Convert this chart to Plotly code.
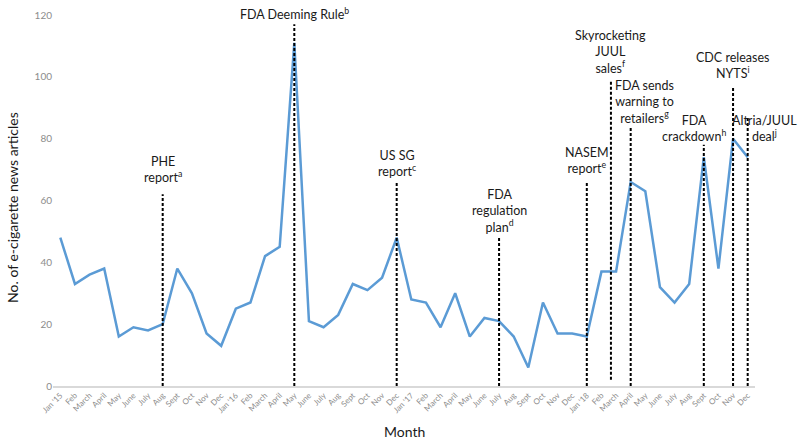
import plotly.graph_objects as go

month_labels = ["Jan '15", "Feb", "March", "April", "May", "June", "July", "Aug", "Sept", "Oct", "Nov", "Dec",
                "Jan '16", "Feb", "March", "April", "May", "June", "July", "Aug", "Sept", "Oct", "Nov", "Dec",
                "Jan '17", "Feb", "March", "April", "May", "June", "July", "Aug", "Sept", "Oct", "Nov", "Dec",
                "Jan '18", "Feb", "March", "April", "May", "June", "July", "Aug", "Sept", "Oct", "Nov", "Dec"]
articles = [48, 33, 36, 38, 16, 19, 18, 20, 38, 30, 17, 13,
            25, 27, 42, 45, 111, 21, 19, 23, 33, 31, 35, 48,
            28, 27, 19, 30, 16, 22, 21, 16, 6, 27, 17, 17,
            16, 37, 37, 66, 63, 32, 27, 33, 74, 38, 80, 74]

# events: month index of the dashed line, line bottom/top values, label text
event_pos = [7, 16, 23, 30, 36, 37.65, 39, 44, 46, 47]
event_bottom = [0, 0, 0, 0, 0, 2, 0, 0, 0, 0]
event_top = [62, 117, 66, 48, 66, 99, 84, 78, 97, 87]
event_labels = ["PHE<br>report<sup>a</sup>",
                "FDA Deeming Rule<sup>b</sup>",
                "US SG<br>report<sup>c</sup>",
                "FDA<br>regulation<br>plan<sup>d</sup>",
                "NASEM<br>report<sup>e</sup>",
                "Skyrocketing<br>JUUL<br>sales<sup>f</sup>",
                "FDA sends<br>warning to<br>retailers<sup>g</sup>",
                "FDA<br>crackdown<sup>h</sup>",
                "CDC releases<br>NYTS<sup>i</sup>",
                "Altria/JUUL<br>deal<sup>j</sup>"]
label_y = [70, 120.6, 72, 56.6, 72.9, 108, 91.8, 83.4, 103.8, 83.4]
label_shift = [0, 0, 0, 0, 0, 0, 14, -10, 0, 17]

x_idx = list(range(len(articles)))

Y_MAX = 120
fig = go.Figure()
fig.add_trace(go.Scatter(x=x_idx, y=articles, mode="lines",
                         line=dict(color="#5B9BD5", width=2.5), hoverinfo="skip",
                         showlegend=False))

for xp, yb, yt in zip(event_pos, event_bottom, event_top):
    fig.add_shape(type="line", xref="x", yref="y", x0=xp, x1=xp, y0=yb, y1=yt,
                  line=dict(color="black", width=2, dash="3px,2px"), layer="above")

for xp, lab, ly, sh in zip(event_pos, event_labels, label_y, label_shift):
    fig.add_annotation(x=xp, y=ly / Y_MAX, xref="x", yref="paper", text=lab, showarrow=False,
                       xshift=sh, yanchor="middle", xanchor="center",
                       font=dict(family="Lato", size=12.5, color="#1a1a1a"))

fig.add_annotation(x=0, y=0.48, xref="paper", yref="paper", text="No. of e-cigarette news articles",
                   showarrow=False, textangle=-90, xshift=-40, xanchor="center",
                   font=dict(family="Lato", size=14, color="#1a1a1a"))
fig.add_annotation(x=0.5, y=0, xref="paper", yref="paper", text="Month", showarrow=False,
                   yshift=-45, yanchor="middle",
                   font=dict(family="Lato", size=14, color="#1a1a1a"))

fig.update_layout(
    width=800, height=439,
    margin=dict(l=53, r=45, t=15, b=53),
    plot_bgcolor="white", paper_bgcolor="white",
    font=dict(family="Lato"),
    hovermode=False,
    xaxis=dict(range=[-0.5, 47.5], tickmode="array", tickvals=x_idx, ticktext=month_labels,
               tickangle=-45, tickfont=dict(size=8, color="#8c8c8c"), showgrid=False,
               showline=True, linecolor="#d9d9d9", linewidth=1.5, ticks="", zeroline=False,
               automargin=False),
    yaxis=dict(range=[0, Y_MAX], tickvals=[0, 20, 40, 60, 80, 100, 120], showgrid=False,
               tickfont=dict(size=10, color="#8c8c8c"), zeroline=False, showline=False, ticks="",
               automargin=False),
)

fig.write_html("out.html", config={"displayModeBar": False},
               post_script="document.body.style.margin='0';")
